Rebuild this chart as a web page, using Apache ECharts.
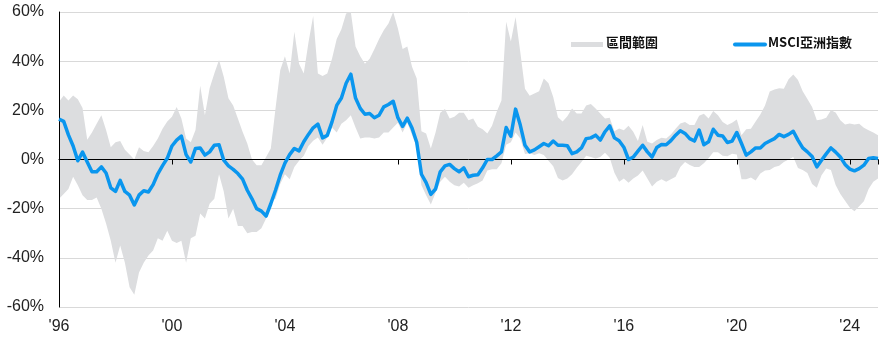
<!DOCTYPE html>
<html><head><meta charset="utf-8">
<script src="https://cdn.jsdelivr.net/npm/echarts@6/dist/echarts.min.js"></script>
<style>html,body{margin:0;padding:0;background:#fff}#c{width:882px;height:341px}</style>
</head><body><div id="c"></div>
<script>
// Bi-monthly observations starting Jan 1996
const startYear = 1996;
const stepYears = 1 / 6;

const msciAsia = [
  16.4, 15.5, 10, 5.5, -0.5, 3, -1, -5, -5, -3, -5.5, -11.5, -13, -8.5, -13, -14.5, -18.5, -14.5, -12.7, -13.2, -10.2, -5.8, -2.5, 0.5,
  5.5, 7.9, 9.5, 2, -1, 4.5, 4.7, 1.8, 3.1, 5.8, 6, -0.3, -2.6, -4, -5.7, -8, -12.5, -16, -20, -21, -23, -18, -12.5, -6.4,
  -1.5, 2, 4.5, 3.5, 7.2, 10.2, 12.9, 14.4, 8.8, 9.8, 15.3, 22, 25, 31, 34.7, 25, 20.8, 18.4, 18.7, 17, 18, 21.4, 22.4, 23.7,
  17, 13.5, 16.8, 12.8, 7, -6, -9.4, -14.2, -12, -5, -2.6, -2, -3.7, -5, -3.4, -7, -6.4, -6.2, -3.4, 0, 0, 1.5, 3.1, 13,
  9.5, 20.5, 14, 5.8, 3.1, 3.9, 5.2, 6.5, 5.6, 7.5, 5.8, 5.8, 5.6, 2.4, 3.1, 4.7, 8.5, 8.8, 9.9, 7.9, 11.3, 13.7, 8.8, 7.6,
  5, 0, 1, 3.4, 5.8, 3.1, 1, 4.9, 6.1, 6, 7.7, 9.9, 11.7, 10.6, 8.5, 7.5, 12, 6, 7.2, 12.3, 9.9, 9.6, 6.9, 7.5,
  11, 6.5, 1.8, 3.1, 4.7, 4.7, 6.5, 7.5, 8.5, 10.2, 9.3, 10.2, 11.5, 7.9, 4.7, 3.1, 1.2, -3, -0.3, 2.3, 4.7, 3, 1, -2,
  -3.9, -4.6, -3.7, -2.3, 0.4, 0.7, 0.4
];

const rangeHigh = [
  23.5, 26, 24, 26, 24.5, 21, 8, 11, 14.5, 18, 12, 5, 7, 7.5, 4, 2, 0, 5, 3.5, 3, 5.5, 8.5, 12.5, 15.5,
  17.4, 21.4, 16.7, 8.5, 7, 12, 30, 18, 29, 35, 40.5, 33.7, 24.9, 22, 16.7, 11.3, 6.5, 0, -2.3, -2.3, 1, 4.5, 20.7, 36.3,
  42, 35, 52, 39, 35, 47.6, 58.4, 35, 34, 35, 41, 49, 53, 59.4, 61, 46, 42, 39, 41, 44.8, 49, 52.6, 55.3, 60,
  53.3, 45, 46, 37.7, 33, 11.5, 10.6, 4.5, 11, 19, 20.5, 16.7, 17.4, 19, 19, 16, 16.7, 13.3, 12.3, 10.6, 13.7, 19.4, 24, 56,
  48, 58, 43.7, 28.8, 25.9, 26.8, 27.8, 33, 31, 25.4, 17.2, 15.5, 17.6, 20.7, 18.7, 18.7, 22, 22.6, 20.7, 18.7, 16.7, 17, 11.5, 12.6,
  11.9, 13.7, 11.3, 7.5, 14, 7.2, 6.5, 7.9, 8.8, 8.5, 10.2, 12.5, 14.6, 15.3, 14, 14, 17.8, 18.6, 16.7, 19.7, 18, 15.3, 14, 15,
  16.3, 9.9, 12.3, 12.5, 15.5, 18.3, 22, 27.7, 28.5, 29, 28.8, 32.6, 34.6, 32.3, 27.8, 24.6, 21.4, 16, 16.3, 17, 20, 19.1, 16, 14.2,
  14.6, 14.2, 14.5, 12.9, 11.9, 11, 9.9
];

const rangeLow = [
  -16, -14, -12, -7, -10.5, -14.5, -16.5, -16.5, -15.5, -20, -26, -33, -42, -35, -42, -52, -55, -46, -42, -39, -37, -32, -33, -29,
  -33, -34, -33, -42, -32, -31, -22, -24, -18, -16, -6, -13, -24, -20, -27, -27, -30, -29.5, -29.5, -28, -24, -17, -16, -10,
  -6, -8, -3, -0.5, 1.5, 5.5, 7.6, 9, 6, 9, 13, 11, 14.5, 16, 18, 13, 8.5, 9, 9, 8.5, 9, 11, 11, 13,
  15, 11, 15, 10, 5, -10.5, -14.5, -18.3, -13.5, -9, -7, -9, -10.5, -11, -9.5, -11.5, -10.5, -9.7, -8.5, -4.5, -4, -4, -1.5, 6,
  7, 11, 8.5, 2.2, 2.5, 1.8, 2.5, 1.8, -0.5, -2.7, -7.5, -8.5, -7.7, -6, -3.4, -1, 1.5, 1, 0.4, 1, 2.7, 0.7, -5.4, -9,
  -7.7, -9.5, -7.7, -6.5, -4.5, -7.7, -11, -9, -8, -9, -8, -7, -3, -1, -2.2, -3, -3, -1.5, 0.5, 3, 3, 1.5, 1.3, 2.3,
  2, -8, -8, -7.3, -8.5, -5.7, -4.5, -4.3, -3, -2.5, -1, 0, 1, -3.5, -4.3, -5.5, -10, -11.5, -6.4, -3.7, -4.3, -10.4, -14, -16.8,
  -19.5, -21, -19, -17, -12, -9, -7.7
];

const seriesNames = ['區間範圍', 'MSCI亞洲指數'];
const yTicks = { min: -60, max: 60, interval: 20 };
const xTicks = { min: 1996, max: 2025, interval: 4 };

const bandColor = '#dcdddf';
const lineColor = '#0a96ee';

const xs = msciAsia.map((_, i) => startYear + i * stepYears);
const bandData = xs.map((x, i) => [x, rangeLow[i], rangeHigh[i]]);
const lineData = msciAsia.map((v, i) => [xs[i], v]);

const chart = echarts.init(document.getElementById('c'), null, { renderer: 'canvas' });
const labelFont = { fontFamily: 'Liberation Sans, Arial, sans-serif', fontSize: 16, color: '#222' };

function renderBand(params, api) {
  if (params.dataIndex !== 0) return null;
  const pts = [];
  for (let i = 0; i < bandData.length; i++) {
    pts.push(api.coord([bandData[i][0], Math.min(bandData[i][2], yTicks.max)]));
  }
  for (let i = bandData.length - 1; i >= 0; i--) {
    pts.push(api.coord([bandData[i][0], Math.max(bandData[i][1], yTicks.min)]));
  }
  return {
    type: 'polygon',
    shape: { points: pts },
    style: { fill: bandColor, stroke: null },
    silent: true
  };
}

chart.setOption({
  animation: false,
  grid: { left: 59, right: 4, top: 12, bottom: 34 },
  xAxis: [
    {
      type: 'value', min: xTicks.min, max: xTicks.max, interval: xTicks.interval,
      position: 'bottom',
      axisLine: { show: false, onZero: false },
      axisTick: { show: false },
      splitLine: { show: false },
      axisLabel: Object.assign({ margin: 12, showMaxLabel: false, formatter: v => "'" + String(v).slice(2) }, labelFont)
    },
    {
      type: 'value', min: xTicks.min, max: xTicks.max, interval: xTicks.interval,
      position: 'bottom', z: 3,
      axisLine: { show: true, onZero: true, lineStyle: { color: '#000', width: 1 } },
      axisTick: { show: true, inside: false, length: 5, lineStyle: { color: '#000', width: 1 } },
      splitLine: { show: false },
      axisLabel: { show: false }
    }
  ],
  yAxis: [
    {
      type: 'value', min: yTicks.min, max: yTicks.max, interval: yTicks.interval,
      axisLine: { show: false },
      axisTick: { show: false },
      splitLine: { show: true, lineStyle: { color: '#d9d9d9', width: 1 } },
      axisLabel: Object.assign({ margin: 15, formatter: v => v + '%' }, labelFont)
    },
    {
      type: 'value', min: yTicks.min, max: yTicks.max, interval: yTicks.interval,
      position: 'left', offset: 0, z: 3,
      axisLine: { show: true, lineStyle: { color: '#000', width: 1 } },
      axisTick: { show: false },
      splitLine: { show: false },
      axisLabel: { show: false }
    }
  ],
  series: [
    {
      name: seriesNames[0], type: 'custom', data: bandData,
      encode: { x: 0, y: [1, 2] }, renderItem: renderBand, clip: true, silent: true, z: 1
    },
    {
      name: seriesNames[1], type: 'line', data: lineData,
      symbol: 'none', lineStyle: { color: lineColor, width: 3.5, join: 'round' }, z: 5
    }
  ],
  graphic: [
    { type: 'rect', left: 571, top: 42, shape: { width: 32, height: 5 }, style: { fill: bandColor }, z: 10 },
    { type: 'text', left: 606, top: 36, style: { text: seriesNames[0], font: 'bold 13px "Noto Sans CJK TC", sans-serif', fill: '#111' }, z: 10 },
    { type: 'line', shape: { x1: 735, y1: 44.5, x2: 765, y2: 44.5 }, style: { stroke: lineColor, lineWidth: 4, lineCap: 'round' }, z: 10 },
    { type: 'text', left: 768, top: 36, style: { text: seriesNames[1], font: 'bold 13px "Noto Sans CJK TC", sans-serif', fill: '#111' }, z: 10 }
  ]
});
</script>
</body></html>
